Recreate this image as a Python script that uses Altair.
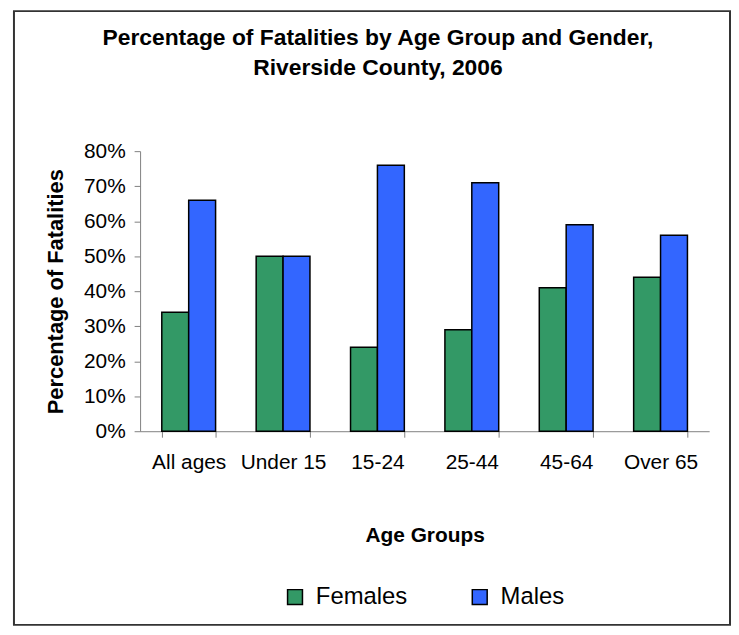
import altair as alt
import pandas as pd

categories = ["All ages", "Under 15", "15-24", "25-44", "45-64", "Over 65"]
females = [0.34, 0.50, 0.24, 0.29, 0.41, 0.44]
males = [0.66, 0.50, 0.76, 0.71, 0.59, 0.56]
genders = ["Females", "Males"]
colors = ["#339966", "#3366FF"]
y_ticks = [0, 0.1, 0.2, 0.3, 0.4, 0.5, 0.6, 0.7, 0.8]

rows = []
for c, f, m in zip(categories, females, males):
    rows.append({"age": c, "gender": "Females", "pct": f})
    rows.append({"age": c, "gender": "Males", "pct": m})
df = pd.DataFrame(rows)

FONT = "Liberation Sans"

bars = alt.Chart(df).mark_bar(stroke="black", strokeWidth=1.5).encode(
    x=alt.X(
        "age:N",
        sort=categories,
        scale=alt.Scale(paddingInner=0.43, paddingOuter=0.23),
        axis=alt.Axis(
            title="Age Groups",
            labelAngle=0,
            labelFont=FONT,
            labelFontSize=21,
            labelColor="black",
            labelPadding=15,
            tickBand="extent",
            tickSize=6,
            tickColor="#808080",
            domainColor="#808080",
            titleFont=FONT,
            titleFontSize=21,
            titleFontWeight="bold",
            titleColor="black",
            titlePadding=52,
        ),
    ),
    xOffset=alt.XOffset("gender:N", sort=genders, scale=alt.Scale(paddingInner=0, paddingOuter=0)),
    y=alt.Y(
        "pct:Q",
        scale=alt.Scale(domain=[0, 0.8], nice=False),
        axis=alt.Axis(
            title="Percentage of Fatalities",
            values=y_ticks,
            format=".0%",
            grid=False,
            labelFont=FONT,
            labelFontSize=21,
            labelColor="black",
            labelPadding=9,
            tickSize=6,
            tickColor="#808080",
            domainColor="#808080",
            titleFont=FONT,
            titleFontSize=22,
            titleFontWeight="bold",
            titleColor="black",
            titlePadding=16,
        ),
    ),
    color=alt.Color(
        "gender:N",
        sort=genders,
        scale=alt.Scale(domain=genders, range=colors),
        legend=alt.Legend(
            title=None,
            orient="none",
            direction="horizontal",
            legendX=144,
            legendY=437,
            symbolType="square",
            symbolSize=225,
            symbolStrokeColor="black",
            symbolStrokeWidth=1.5,
            symbolOpacity=1,
            labelFont=FONT,
            labelFontSize=24,
            labelColor="black",
            labelOffset=9,
            columnPadding=60,
        ),
    ),
)

frame = alt.Chart(alt.Data(values=[{}])).mark_rect(
    fillOpacity=0, stroke="#333333", strokeWidth=2
).encode(
    x=alt.value(-127),
    x2=alt.value(594),
    y=alt.value(-141),
    y2=alt.value(477),
)

chart = alt.layer(bars, frame).properties(
    width=573,
    height=282,
    autosize=alt.AutoSizeParams(type="none"),
    padding={"left": 133, "top": 142, "right": 22, "bottom": 196},
    title=alt.TitleParams(
        text=["Percentage of Fatalities by Age Group and Gender,", "Riverside County, 2006"],
        font=FONT,
        fontSize=23,
        fontWeight="bold",
        color="black",
        lineHeight=30,
        anchor="middle",
        frame="group",
        dx=-47,
        offset=-70,
    ),
).configure_view(stroke=None)

chart.save("out.html", embed_options={"renderer": "svg", "actions": False})
